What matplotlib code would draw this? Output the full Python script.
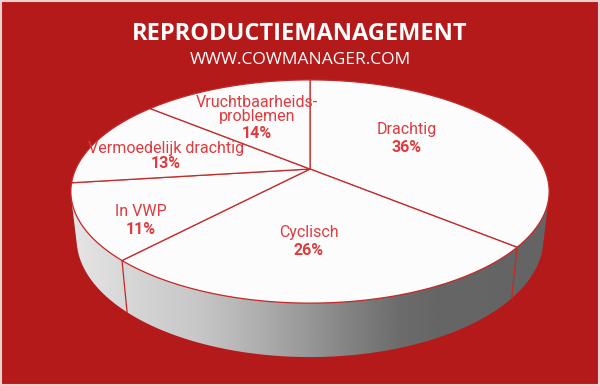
import numpy as np
import matplotlib
matplotlib.use("Agg")
import matplotlib.pyplot as plt
from matplotlib.patches import Polygon, Rectangle

# data
categories = ["Drachtig", "Cyclisch", "In VWP", "Vermoedelijk drachtig", "Vruchtbaarheids-\nproblemen"]
values = [36, 26, 11, 13, 14]
title = "REPRODUCTIEMANAGEMENT"
subtitle = "WWW.COWMANAGER.COM"

# label placement (pixel coords): x, baseline of first name line, baseline of pct
label_pos = [(407, 134, 152), (309, 237, 255), (141, 216, 234), (166, 153, 168), (257, 107, 138)]

BG = "#B51A1B"
EDGE = "#C62828"
TXT = "#E03A3E"
plt.rcParams['font.family'] = ['Open Sans', 'DejaVu Sans']
LABEL_FONT = ['Roboto', 'DejaVu Sans']

# simple perspective camera for the 3d pie
alpha = np.radians(27.2)
ca, sa = np.cos(alpha), np.sin(alpha)
D, K = 4.41, 1033.0
CX, CY = 310.0, 169.0
T = 0.228


def project(theta_deg, z):
    th = np.radians(theta_deg)
    X = np.sin(th)
    Y = -np.cos(th)
    depth = D - Y * ca - z * sa
    u = X / depth
    v = (z * ca - Y * sa) / depth
    return CX + K * u, CY - K * v


fig = plt.figure(figsize=(6, 3.86), dpi=100)
fig.patch.set_facecolor(BG)
ax = fig.add_axes([0, 0, 1, 1])
ax.set_xlim(0, 600)
ax.set_ylim(386, 0)
ax.axis('off')

# angles of slice boundaries, clockwise from the back
bounds = np.concatenate([[0], np.cumsum(values) / np.sum(values) * 360])

# side wall (front part only)
th_sil = np.degrees(np.arccos(-1 / (D * ca)))
ths = np.linspace(th_sil, 360 - th_sil, 200)
top_x, top_y = project(ths, 0)
bot_x, bot_y = project(ths[::-1], -T)
side = Polygon(np.column_stack([np.r_[top_x, bot_x], np.r_[top_y, bot_y]]),
               closed=True, facecolor='none', edgecolor='none')
ax.add_patch(side)

gx = np.arange(60, 561)
gv = np.interp(gx, [60, 130, 200, 260, 300, 350, 400, 440, 560],
               [232, 214, 198, 174, 155, 130, 108, 101, 100]) / 255
grad = np.tile(gv, (10, 1))
im = ax.imshow(grad, cmap='gray', vmin=0, vmax=1, extent=(60, 560, 370, 170),
               aspect='auto', interpolation='bilinear', zorder=1)
im.set_clip_path(side)

# vertical edges on the side where slices meet
for b in bounds[1:-1]:
    if th_sil < b < 360 - th_sil:
        x0, y0 = project(b, 0)
        x1, y1 = project(b, -T)
        ax.plot([x0, x1], [y0, y1], color=EDGE, lw=0.9, zorder=2)

# top face slices
for i in range(len(values)):
    a = np.linspace(bounds[i], bounds[i + 1], 120)
    px, py = project(a, 0)
    pts = np.column_stack([np.r_[CX, px], np.r_[CY, py]])
    ax.add_patch(Polygon(pts, closed=True, facecolor='#FCFCFC', edgecolor=EDGE,
                         lw=0.9, joinstyle='round', zorder=3))

# labels
for cat, val, (lx, ny, vy) in zip(categories, values, label_pos):
    for k, line in enumerate(cat.split("\n")):
        ax.text(lx, ny + k * 14, line, color=TXT, fontsize=11.5, ha='center',
                va='baseline', family=LABEL_FONT, zorder=4)
    ax.text(lx, vy, f"{val}%", color=TXT, fontsize=11.5, fontweight='bold',
            ha='center', va='baseline', family=LABEL_FONT, zorder=4)

# titles
ax.text(300, 40, title, color='white', fontsize=17, fontweight='bold',
        ha='center', va='baseline')
ax.text(300, 64, subtitle, color='white', fontsize=12.5, ha='center', va='baseline')

ax.add_patch(Rectangle((0.75, 0.75), 598.5, 384.5, fill=False,
                       edgecolor='#F2CFCF', lw=1.5, zorder=5))

fig.savefig('out.png', dpi=100, facecolor=fig.get_facecolor())
